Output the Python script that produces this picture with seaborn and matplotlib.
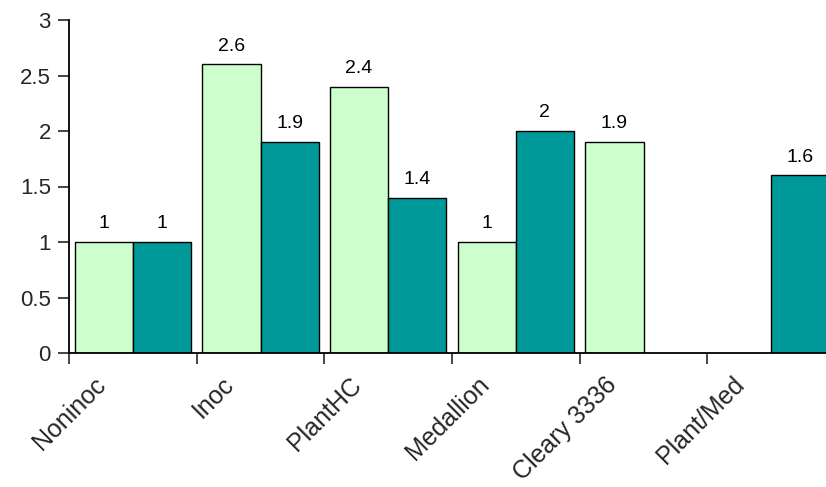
import matplotlib
matplotlib.use("Agg")
import matplotlib.pyplot as plt
import matplotlib.transforms as mtransforms
import seaborn as sns
import pandas as pd
import numpy as np

# chart values
treatments = ["Noninoc", "Inoc", "PlantHC", "Medallion", "Cleary 3336", "Plant/Med"]
series_names = ["Light", "Teal"]
light_vals = [1, 2.6, 2.4, 1, 1.9, np.nan]
teal_vals = [1, 1.9, 1.4, 2, np.nan, 1.6]
bar_colors = ["#CCFFCC", "#009999"]

df = pd.DataFrame({
    "treatment": treatments * 2,
    "series": [series_names[0]] * len(treatments) + [series_names[1]] * len(treatments),
    "value": light_vals + teal_vals,
})

sns.set_style("white")
plt.rcParams["font.family"] = ["Liberation Sans", "DejaVu Sans"]

fig = plt.figure(figsize=(8.26, 4.87), dpi=100)
ax = fig.add_axes([69 / 826, 1 - 353 / 487, 766 / 826, 333 / 487])

sns.barplot(data=df, x="treatment", y="value", hue="series", order=treatments,
            hue_order=series_names, palette=bar_colors, saturation=1, width=0.91,
            errorbar=None, edgecolor="black", linewidth=1.0, legend=False, ax=ax)

for cont in ax.containers:
    ax.bar_label(cont, fmt="{:g}", padding=7, fontsize=14, color="black")

ax.set_ylim(0, 3)
ax.set_yticks(np.arange(0, 3.01, 0.5))
ax.set_yticklabels(["0", "0.5", "1", "1.5", "2", "2.5", "3"])
ax.set_xlim(-0.5, len(treatments) - 0.5)

# tick marks at category boundaries, labels at centres
ax.set_xticks(np.arange(len(treatments) + 1) - 0.5)
ax.set_xticklabels([])
ax.set_xticks(np.arange(len(treatments)), minor=True)
ax.set_xticklabels(treatments, minor=True, rotation=45, ha="right", fontsize=18)
ax.tick_params(axis="x", which="major", direction="out", length=8, width=1.2, bottom=True)
ax.tick_params(axis="x", which="minor", length=0, pad=14)
ax.tick_params(axis="y", direction="out", length=8, width=1.2, left=True, labelsize=16, pad=5)
shift = mtransforms.ScaledTranslation(-0.22, 0, fig.dpi_scale_trans)
for lbl in ax.get_xticklabels(minor=True):
    lbl.set_transform(lbl.get_transform() + shift)

ax.set_xlabel("")
ax.set_ylabel("")
sns.despine(ax=ax)
for side in ["left", "bottom"]:
    ax.spines[side].set_linewidth(1.3)
    ax.spines[side].set_color("black")

fig.savefig("out.png", dpi=100)
